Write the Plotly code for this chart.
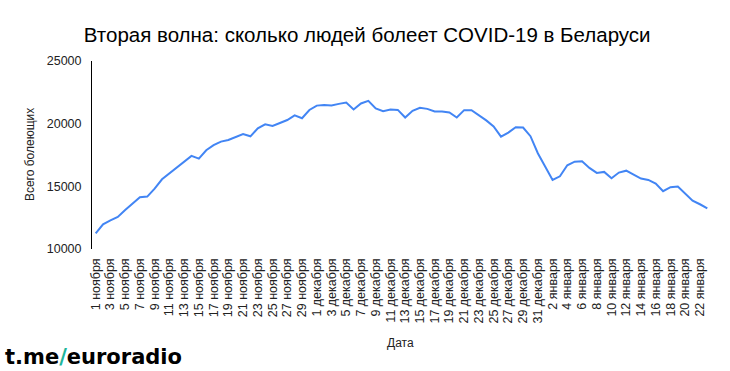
import plotly.graph_objects as go

# Category labels (one per day, 1 Nov – 23 Jan)
dates = ([f"{d} ноября" for d in range(1, 31)]
         + [f"{d} декабря" for d in range(1, 32)]
         + [f"{d} января" for d in range(1, 24)])

# Active cases
active = [
    11250, 11970, 12290, 12560, 13110, 13650, 14130, 14180, 14820, 15560,
    16040, 16520, 16950, 17430, 17210, 17880, 18280, 18570, 18700, 18960,
    19170, 18990, 19630, 19950, 19810, 20050, 20290, 20660, 20430, 21090,
    21440, 21480, 21450, 21580, 21690, 21130, 21610, 21820, 21210, 21000,
    21130, 21100, 20490, 21020, 21260, 21180, 20970, 20970, 20890, 20490,
    21080, 21080, 20680, 20260, 19780, 18960, 19290, 19720, 19690, 19000,
    17640, 16570, 15510, 15800, 16680, 16970, 17000, 16470, 16070, 16150,
    15650, 16100, 16250, 15930, 15620, 15510, 15220, 14610, 14930, 14980,
    14420, 13860, 13570, 13250,
]

tick_labels = dates[::2]
y_ticks = [10000, 15000, 20000, 25000]

title = "Вторая волна: сколько людей болеет COVID-19 в Беларуси"
y_title = "Всего болеющих"
x_title = "Дата"

FONT = "Liberation Sans, Arial, sans-serif"

fig = go.Figure()
fig.add_trace(go.Scatter(
    x=dates, y=active, mode="lines",
    line=dict(color="#4285F4", width=2),
    hoverinfo="x+y", showlegend=False,
))

fig.update_layout(
    width=730, height=371,
    margin=dict(l=92, r=19, t=61, b=122, autoexpand=False),
    paper_bgcolor="white", plot_bgcolor="white",
    font=dict(family=FONT, size=12, color="#222222"),
    title=dict(text=title, x=0.503, xanchor="center", y=0.906, yanchor="middle",
               font=dict(family=FONT, size=20.5, color="#000000")),
    xaxis=dict(
        type="category", range=[-0.5, len(dates) - 0.5], automargin=False,
        tickmode="array", tickvals=tick_labels, ticktext=tick_labels,
        tickangle=-90, showgrid=False, zeroline=False, showline=False,
        ticks="", ticklabelstandoff=6,
        tickfont=dict(family=FONT, size=12.5, color="#222222"),
    ),
    yaxis=dict(
        range=[10000, 25000], tickvals=y_ticks, ticktext=[str(v) for v in y_ticks],
        automargin=False,
        showgrid=False, zeroline=False, showline=True, linecolor="#000000",
        linewidth=1, ticks="", ticklabelstandoff=7,
        tickfont=dict(family=FONT, size=12.5, color="#222222"),
    ),
    annotations=[
        dict(text=y_title, xref="paper", yref="paper", x=-0.10, y=0.5,
             xanchor="center", yanchor="middle", textangle=-90, showarrow=False,
             font=dict(family=FONT, size=12, color="#222222"),
             ),
        dict(text=x_title, xref="paper", yref="paper", x=0.499, y=-0.50,
             xanchor="center", yanchor="middle", showarrow=False,
             font=dict(family=FONT, size=12, color="#222222")),
        dict(text="t.me<span style='color:#20b59a'>/</span>euroradio",
             xref="paper", yref="paper", x=-0.143, y=-0.574,
             xanchor="left", yanchor="middle", showarrow=False,
             font=dict(family="DejaVu Sans", size=21, color="#000000", weight="bold")),
    ],
)

fig.write_html("out.html", config={"displayModeBar": False},
               post_script="document.body.style.margin='0';")
